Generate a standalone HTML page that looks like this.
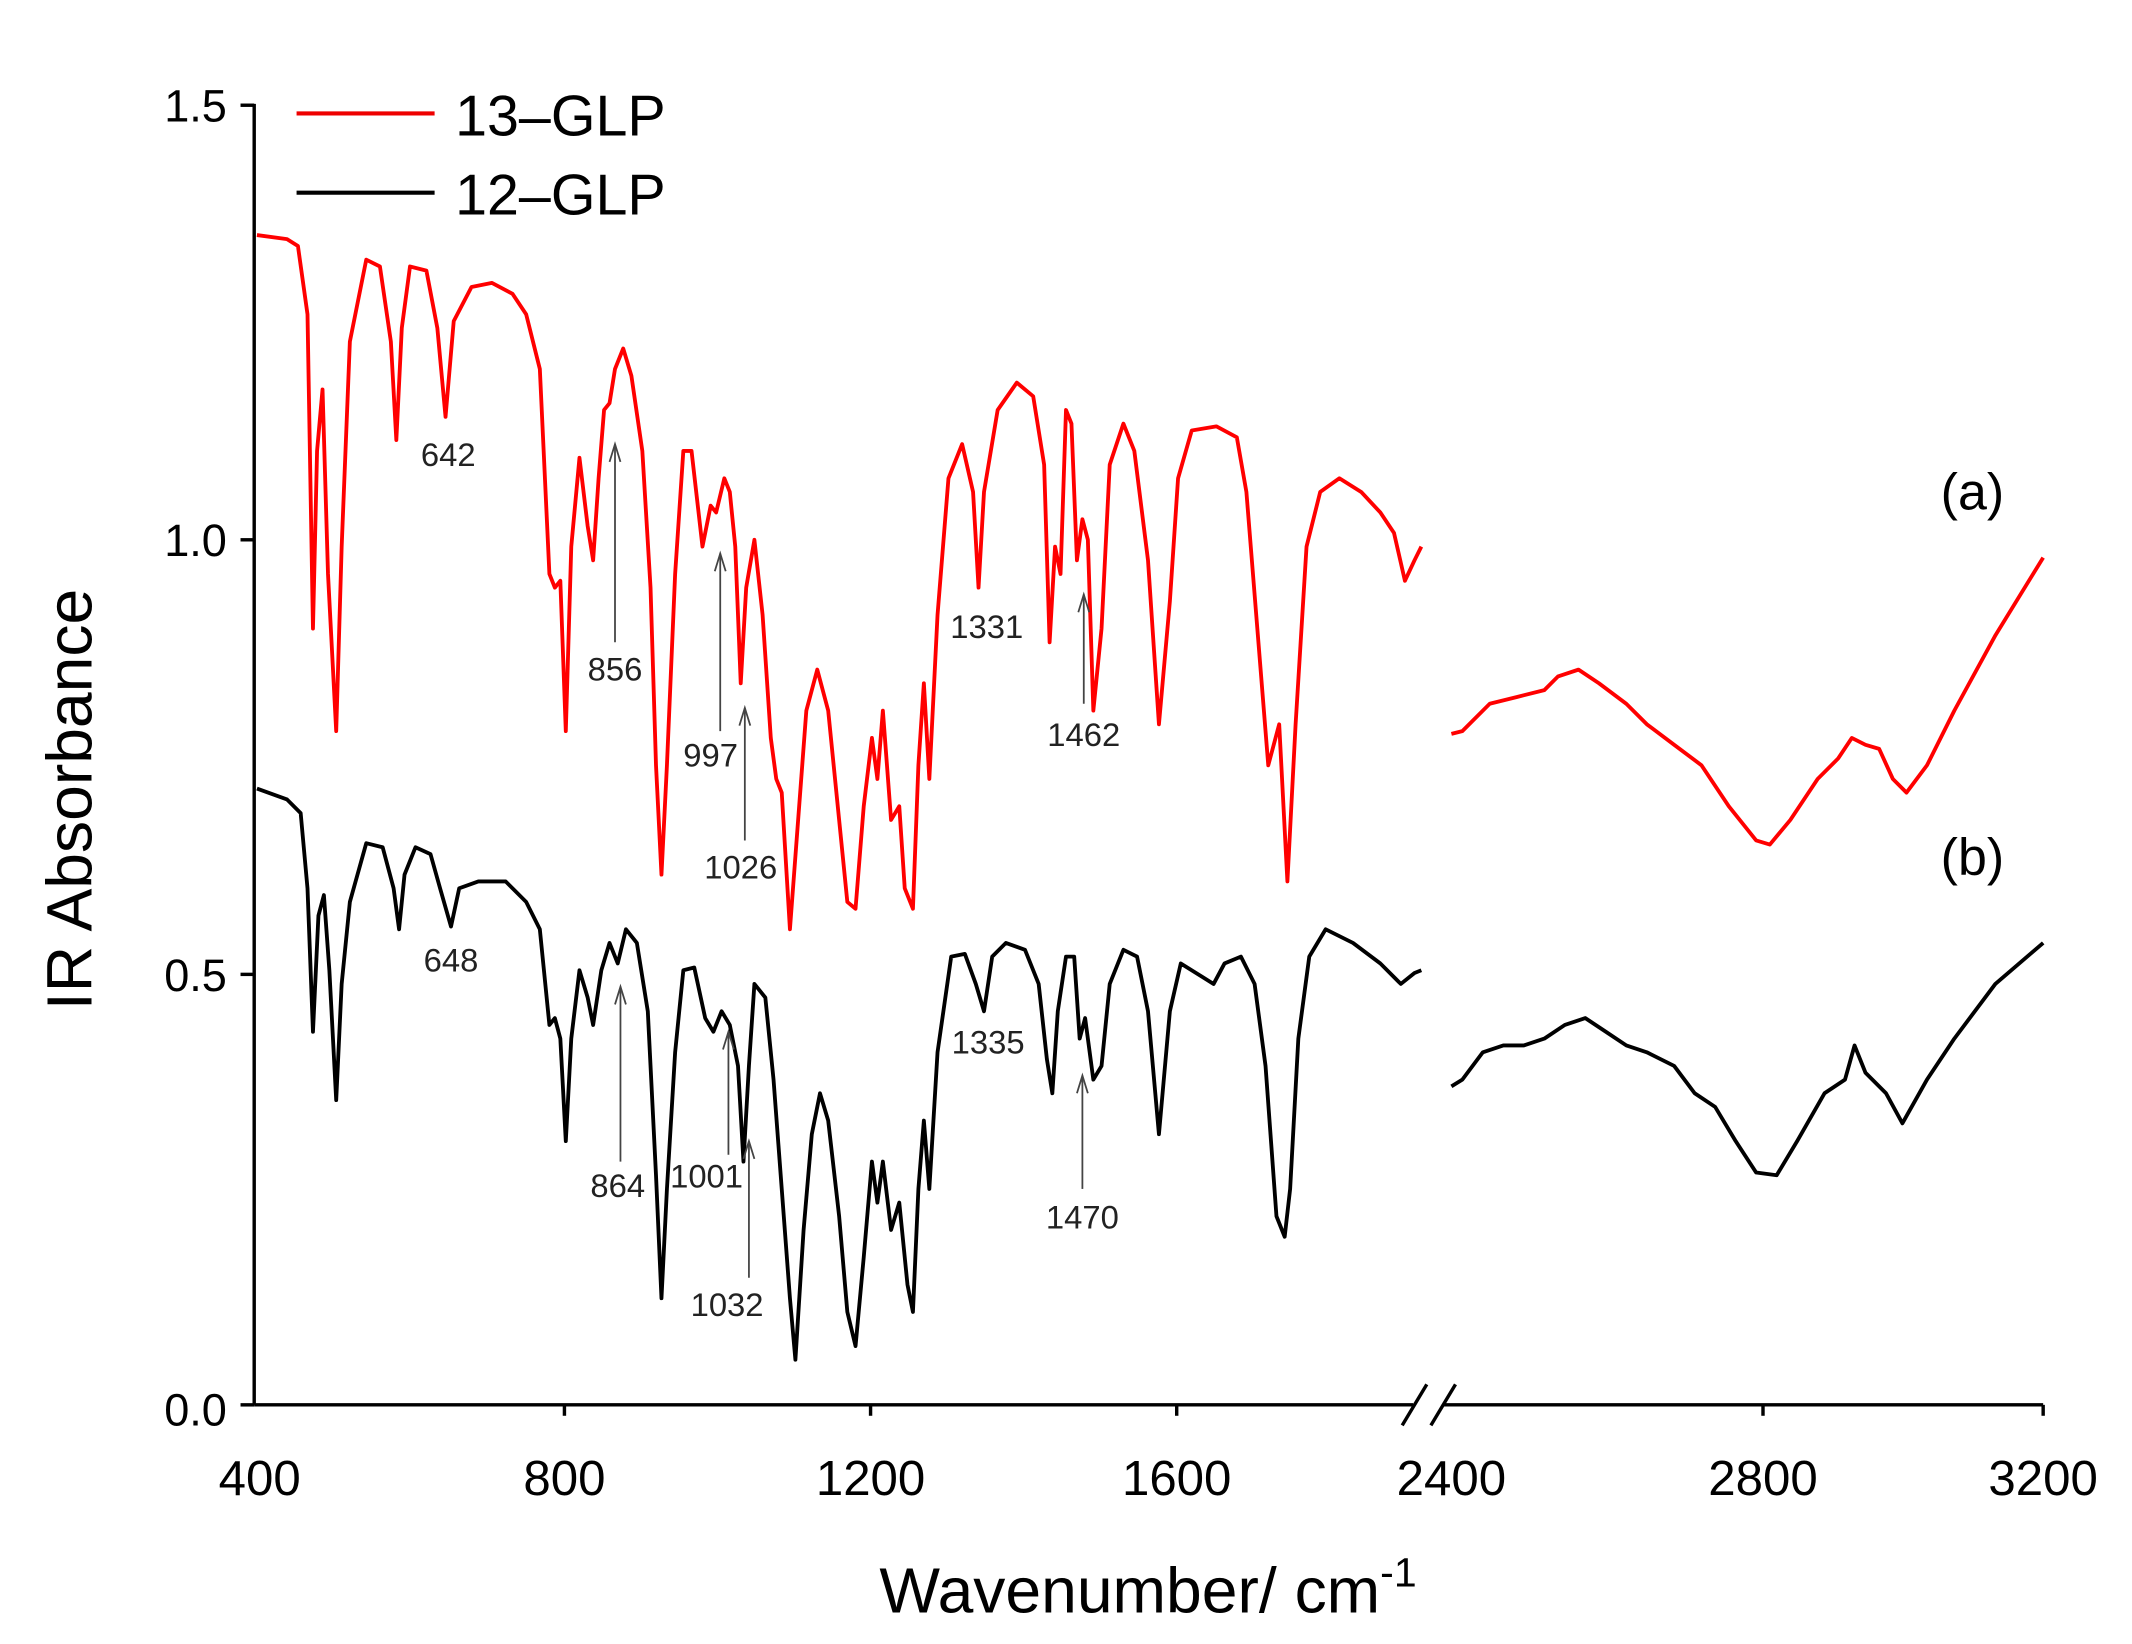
<!DOCTYPE html>
<html><head><style>html,body{margin:0;padding:0;background:#fff;}svg{display:block}</style></head>
<body>
<svg width="2132" height="1644" viewBox="0 0 1560 1203" preserveAspectRatio="none" xmlns="http://www.w3.org/2000/svg" font-family="Liberation Sans, Arial, sans-serif">
<rect width="1560" height="1203" fill="#fff"/>
<line x1="186" y1="76" x2="186" y2="1028" stroke="#000" stroke-width="2.5"/>
<line x1="186" y1="1028" x2="1034" y2="1028" stroke="#000" stroke-width="2.5"/>
<line x1="1056" y1="1028" x2="1495" y2="1028" stroke="#000" stroke-width="2.5"/>
<line x1="1026" y1="1043" x2="1044" y2="1013" stroke="#000" stroke-width="2.5"/>
<line x1="1047" y1="1043" x2="1065" y2="1013" stroke="#000" stroke-width="2.5"/>
<g stroke="#000" stroke-width="2.5">
<line x1="176" y1="77" x2="186" y2="77"/><line x1="176" y1="395" x2="186" y2="395"/><line x1="176" y1="713" x2="186" y2="713"/><line x1="176" y1="1028" x2="186" y2="1028"/>
<line x1="413" y1="1028" x2="413" y2="1036"/><line x1="637" y1="1028" x2="637" y2="1036"/><line x1="861" y1="1028" x2="861" y2="1036"/>
<line x1="1290" y1="1028" x2="1290" y2="1036"/><line x1="1495" y1="1028" x2="1495" y2="1036"/>
</g>
<g font-size="33" fill="#000" text-anchor="end">
<text x="166" y="89">1.5</text><text x="166" y="407">1.0</text><text x="166" y="725">0.5</text><text x="166" y="1043">0.0</text>
</g>
<g font-size="36" fill="#000" text-anchor="middle">
<text x="190" y="1094">400</text><text x="413" y="1094">800</text><text x="637" y="1094">1200</text><text x="861" y="1094">1600</text>
<text x="1062" y="1094">2400</text><text x="1290" y="1094">2800</text><text x="1495" y="1094">3200</text>
</g>
<text x="840" y="1180" font-size="47" text-anchor="middle">Wavenumber/ cm<tspan font-size="30" dy="-19">-1</tspan></text>
<text transform="translate(67,585) rotate(-90)" font-size="47" text-anchor="middle">IR Absorbance</text>
<line x1="217" y1="83" x2="318" y2="83" stroke="#e00" stroke-width="3"/>
<line x1="217" y1="141" x2="318" y2="141" stroke="#000" stroke-width="3"/>
<text x="333" y="99" font-size="42">13–GLP</text>
<text x="333" y="157" font-size="42">12–GLP</text>
<text x="1420" y="373" font-size="38">(a)</text>
<text x="1420" y="640" font-size="38">(b)</text>
<g fill="none" stroke-width="2.8" stroke-linejoin="round">
<polyline stroke="#f00" points="188,172 210,175 218,180 225,230 229,460 232,330 236,285 240,420 246,535 250,400 256,250 268,190 278,195 286,250 290,322 294,240 300,195 312,198 320,240 326,305 332,235 345,210 360,207 375,215 385,230 395,270 402,420 406,430 410,425 414,535 418,400 424,335 430,385 434,410 438,350 442,300 446,295 450,270 456,255 462,275 470,330 476,430 480,560 484,640 488,560 494,420 500,330 506,330 514,400 520,370 524,375 530,350 534,360 538,400 542,500 546,430 552,395 558,450 564,540 568,570 572,580 578,680 584,600 590,520 598,490 606,520 614,600 620,660 626,665 632,590 638,540 642,570 646,520 652,600 658,590 662,650 668,665 672,560 676,500 680,570 686,450 694,350 704,325 712,360 716,430 720,360 730,300 744,280 756,290 764,340 768,470 772,400 776,420 780,300 784,310 788,410 792,380 796,395 800,520 806,460 812,340 822,310 830,330 840,410 848,530 856,440 862,350 872,315 890,312 905,320 912,360 920,460 928,560 936,530 942,645 948,530 956,400 966,360 980,350 996,360 1010,375 1020,390 1028,425 1035,410 1040,400"/>
<polyline stroke="#f00" points="1062,537 1070,535 1090,515 1110,510 1130,505 1140,495 1155,490 1170,500 1190,515 1205,530 1225,545 1245,560 1265,590 1285,615 1295,618 1310,600 1330,570 1345,555 1355,540 1365,545 1375,548 1385,570 1395,580 1410,560 1430,520 1460,465 1495,408"/>
<polyline stroke="#000" points="188,577 210,585 220,595 225,650 229,755 233,670 237,655 241,710 246,805 250,720 256,660 268,617 280,620 288,650 292,680 296,640 304,620 315,625 322,650 330,678 336,650 350,645 370,645 385,660 395,680 402,750 406,745 410,760 414,835 418,760 424,710 430,730 434,750 440,710 446,690 452,705 458,680 466,690 474,740 480,860 484,950 488,870 494,770 500,710 508,708 516,745 522,755 528,740 534,750 540,780 544,850 548,780 552,720 560,730 566,790 572,870 578,950 582,995 588,900 594,830 600,800 606,820 614,890 620,960 626,985 632,920 638,850 642,880 646,850 652,900 658,880 664,940 668,960 672,870 676,820 680,870 686,770 696,700 706,698 714,720 720,740 726,700 736,690 750,695 760,720 766,775 770,800 774,740 780,700 786,700 790,760 794,745 800,790 806,780 812,720 822,695 832,700 840,740 848,830 856,740 864,705 880,715 888,720 896,705 908,700 918,720 926,780 934,890 940,905 944,870 950,760 958,700 970,680 990,690 1010,705 1025,720 1035,712 1040,710"/>
<polyline stroke="#000" points="1062,795 1070,790 1085,770 1100,765 1115,765 1130,760 1145,750 1160,745 1175,755 1190,765 1205,770 1225,780 1240,800 1255,810 1270,835 1285,858 1300,860 1315,835 1335,800 1350,790 1357,765 1365,785 1380,800 1392,822 1410,790 1430,760 1460,720 1495,690"/>
</g>
<g stroke="#444" stroke-width="1.3" fill="none">
<line x1="450" y1="325" x2="450" y2="470"/><polyline points="446,338 450,325 454,338"/>
<line x1="527" y1="405" x2="527" y2="535"/><polyline points="523,418 527,405 531,418"/>
<line x1="545" y1="518" x2="545" y2="615"/><polyline points="541,531 545,518 549,531"/>
<line x1="793" y1="435" x2="793" y2="515"/><polyline points="789,448 793,435 797,448"/>
<line x1="454" y1="722" x2="454" y2="850"/><polyline points="450,735 454,722 458,735"/>
<line x1="533" y1="755" x2="533" y2="845"/><polyline points="529,768 533,755 537,768"/>
<line x1="548" y1="835" x2="548" y2="935"/><polyline points="544,848 548,835 552,848"/>
<line x1="792" y1="787" x2="792" y2="870"/><polyline points="788,800 792,787 796,800"/>
</g>
<g font-size="24" fill="#222" text-anchor="middle">
<text x="328" y="341">642</text><text x="450" y="498">856</text><text x="520" y="561">997</text><text x="542" y="643">1026</text>
<text x="722" y="467">1331</text><text x="793" y="546">1462</text>
<text x="330" y="711">648</text><text x="452" y="876">864</text><text x="517" y="869">1001</text><text x="532" y="963">1032</text>
<text x="723" y="771">1335</text><text x="792" y="899">1470</text>
</g>
</svg>
</body></html>
